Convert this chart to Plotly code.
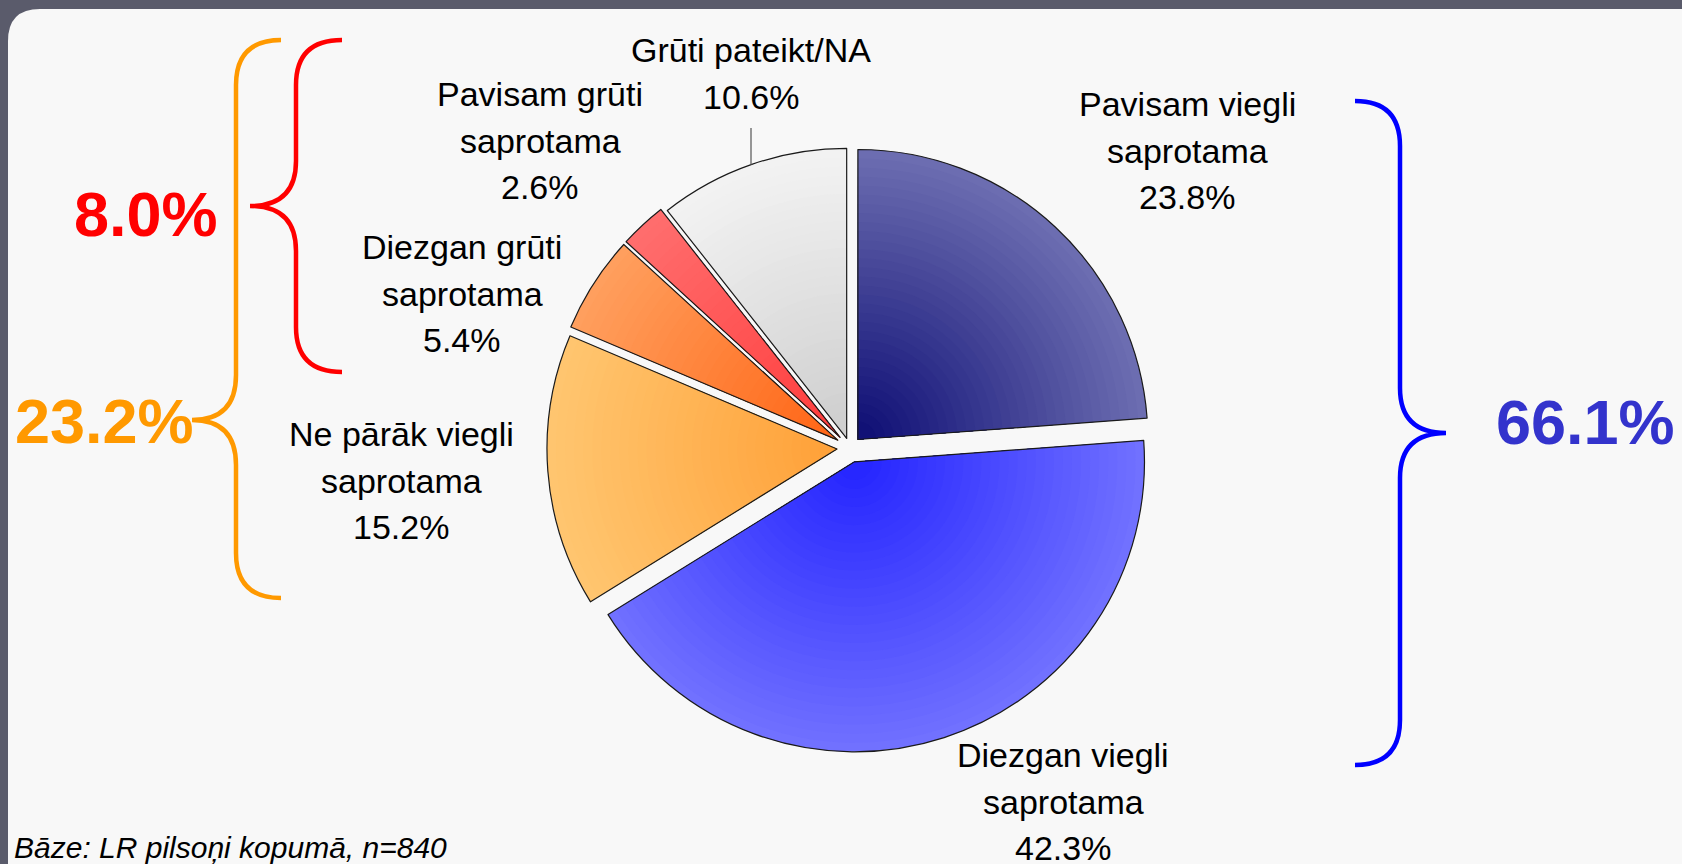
import plotly.graph_objects as go

# ---------------- data ----------------
categories = [
    "Pavisam viegli saprotama",
    "Diezgan viegli saprotama",
    "Ne pārāk viegli saprotama",
    "Diezgan grūti saprotama",
    "Pavisam grūti saprotama",
    "Grūti pateikt/NA",
]
values = [23.8, 42.3, 15.2, 5.4, 2.6, 10.6]
label_lines = [
    ["Pavisam viegli", "saprotama"],
    ["Diezgan viegli", "saprotama"],
    ["Ne pārāk viegli", "saprotama"],
    ["Diezgan grūti", "saprotama"],
    ["Pavisam grūti", "saprotama"],
    ["Grūti pateikt/NA"],
]
footnote = "Bāze: LR pilsoņi kopumā, n=840"

# ---------------- style ----------------
W, H = 1682, 864
pulls = [0.04, 0.05, 0.045, 0.05, 0.05, 0.035]
outer_cols = [(110, 111, 178), (114, 114, 255), (255, 198, 112),
              (255, 160, 95), (255, 110, 110), (243, 243, 243)]
inner_cols = [(12, 12, 115), (35, 35, 255), (255, 160, 55),
              (255, 100, 20), (255, 60, 60), (205, 205, 205)]
label_pos = [(1187, 104), (1063, 755), (401, 434), (462, 247), (540, 94), (751, 50)]
line_gap = 46.5
FONT = "Liberation Sans"

cx, cy, R = 850, 448, 290
pmax = max(pulls)
N_RINGS = 32

fig = go.Figure()


def mix(a, b, t):
    return "rgb(%d,%d,%d)" % tuple(round(a[i] + (b[i] - a[i]) * t) for i in range(3))


def domain_for(r):
    half = r + pmax * R
    return dict(x=[(cx - half) / W, (cx + half) / W],
                y=[1 - (cy + half) / H, 1 - (cy - half) / H])


# gradient rings: outermost first, smaller pies drawn on top
for k in range(N_RINGS):
    r_k = R * (1 - k / N_RINGS)
    if r_k < pmax * R * 1.05:
        break
    t = (k + 0.5) / N_RINGS
    cols = [mix(o, i, t) for o, i in zip(outer_cols, inner_cols)]
    fig.add_trace(go.Pie(
        labels=categories, values=values, sort=False, direction="clockwise",
        rotation=0, pull=[p * R / r_k for p in pulls],
        marker=dict(colors=cols, line=dict(width=0)),
        textinfo="none", hoverinfo="skip", showlegend=False,
        domain=domain_for(r_k),
    ))

# outline trace
fig.add_trace(go.Pie(
    labels=categories, values=values, sort=False, direction="clockwise",
    rotation=0, pull=pulls,
    marker=dict(colors=["rgba(0,0,0,0)"] * len(values), line=dict(width=1.2, color="#1a1a1a")),
    textinfo="none", hoverinfo="skip", showlegend=False,
    domain=domain_for(R),
))

# ---------------- background panel ----------------
shapes = []
shapes.append(dict(type="path", xref="x", yref="y", layer="below",
                   path="M 8,880 L 8,41 Q 8,9 40,9 L 1700,9 L 1700,880 Z",
                   fillcolor="#f8f8f8", line=dict(width=0)))
n_strip = 30
for s in range(n_strip):
    x0 = 650 + s * (W - 650) / n_strip
    shapes.append(dict(type="rect", xref="x", yref="y", layer="below",
                       x0=x0, x1=1700, y0=9, y1=880,
                       fillcolor="rgba(0,0,0,0.0018)", line=dict(width=0)))


def brace(xe, xv, xc, y0, yc, y1, r, color):
    p = (f"M {xe},{y0} Q {xv},{y0} {xv},{y0 + r} L {xv},{yc - r} "
         f"Q {xv},{yc} {xc},{yc} Q {xv},{yc} {xv},{yc + r} "
         f"L {xv},{y1 - r} Q {xv},{y1} {xe},{y1}")
    return dict(type="path", xref="x", yref="y", layer="above", path=p,
                line=dict(color=color, width=4.5))


shapes.append(brace(281, 236, 192, 40, 420, 598, 45, "#ff9900"))
shapes.append(brace(342, 296, 250, 40, 206, 372, 45, "#ff0000"))
shapes.append(brace(1355, 1400, 1446, 101, 433, 765, 45, "#0000ff"))
# leader line for NA label
shapes.append(dict(type="line", xref="x", yref="y", x0=751, x1=751, y0=128, y1=165,
                   line=dict(color="#555555", width=1.2)))

# ---------------- annotations ----------------
ann = []
for lines, v, (lx, ly) in zip(label_lines, values, label_pos):
    for j, txt in enumerate(lines + [f"{v:.1f}%"]):
        ann.append(dict(x=lx, y=ly + j * line_gap, xref="x", yref="y", text=txt,
                        showarrow=False, xanchor="center", yanchor="middle",
                        font=dict(family=FONT, size=34, color="black")))

easy = values[0] + values[1]
not_easy = values[2] + values[3] + values[4]
hard = values[3] + values[4]
ann.append(dict(x=146, y=214, xref="x", yref="y", text=f"{hard:.1f}%", showarrow=False,
                font=dict(family=FONT, size=63, color="#ff0000", weight="bold")))
ann.append(dict(x=104, y=421, xref="x", yref="y", text=f"{not_easy:.1f}%", showarrow=False,
                font=dict(family=FONT, size=63, color="#ff9900", weight="bold")))
ann.append(dict(x=1585, y=422, xref="x", yref="y", text=f"{easy:.1f}%", showarrow=False,
                font=dict(family=FONT, size=63, color="#3333cc", weight="bold")))
ann.append(dict(x=12, y=847, xref="x", yref="y", text=footnote, showarrow=False,
                xanchor="left", yanchor="middle",
                font=dict(family=FONT, size=30, color="black", style="italic")))

fig.update_layout(
    width=W, height=H, margin=dict(l=0, r=0, t=0, b=0),
    paper_bgcolor="#5a5b6b", plot_bgcolor="rgba(0,0,0,0)",
    xaxis=dict(range=[0, W], visible=False, fixedrange=True),
    yaxis=dict(range=[H, 0], visible=False, fixedrange=True),
    shapes=shapes, annotations=ann, showlegend=False,
)

fig.write_html(
    "out.html",
    config={"displayModeBar": False, "staticPlot": True},
    post_script=(
        "document.body.style.margin='0';"
        "document.body.style.overflow='hidden';"
        "document.documentElement.style.overflow='hidden';"
    ),
)
